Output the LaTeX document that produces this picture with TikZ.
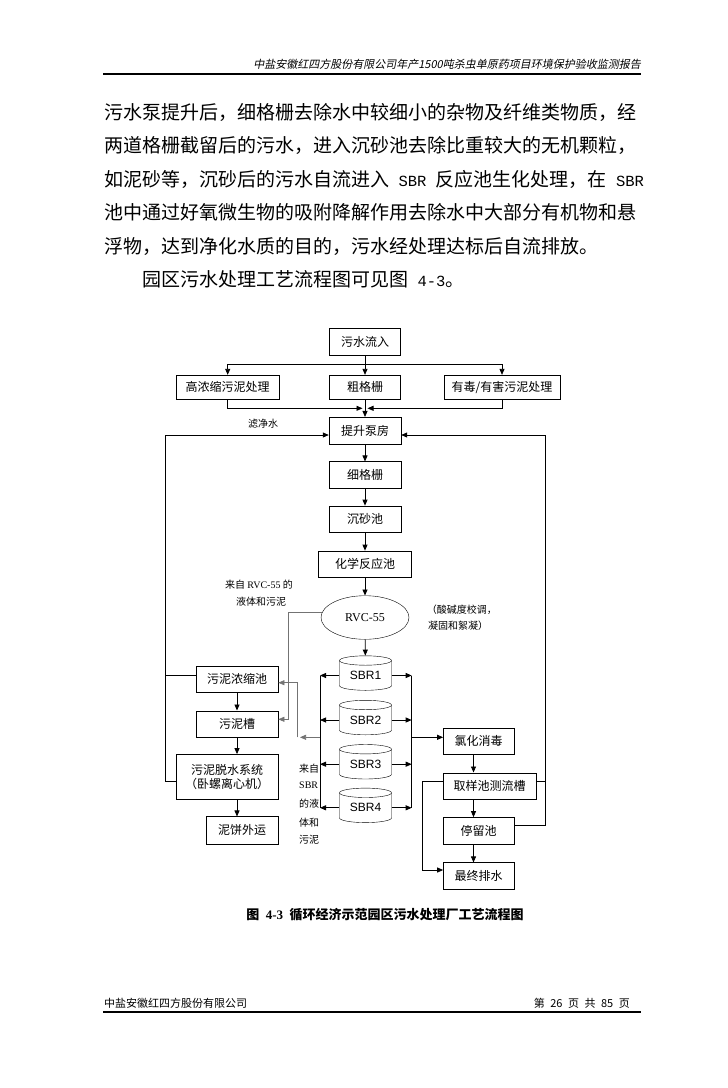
\documentclass[tikz,border=0pt]{standalone}
\usepackage{fontspec}
\setmainfont{Noto Sans CJK SC}
\newfontfamily\serifrm{Liberation Serif}
\newfontfamily\sansrm{Liberation Sans}
\newfontfamily\monorm{Liberation Mono}
\newfontfamily\slantcjk[FakeSlant=0.2]{Noto Sans CJK SC}
\usetikzlibrary{shapes.geometric,arrows.meta}

\newcommand{\boxtxt}{\fontsize{12}{14}\selectfont}
\newcommand{\smalltxt}{\fontsize{10}{12}\selectfont}
\newcommand{\paratxt}{\fontsize{19}{19}\selectfont}
\newcommand{\paramono}{\monorm\fontsize{15.5}{15.5}\selectfont}

\begin{document}
\begin{tikzpicture}[x=1pt,y=-1pt,
    arr/.style={-{Triangle[length=6pt,width=5pt]}},
    conn/.style={line width=0.8pt},
    faint/.style={line width=0.6pt,draw=black!55},
    note/.style={inner sep=0pt,anchor=west,font=\smalltxt},
    para/.style={inner sep=0pt,anchor=west,font=\paratxt}]

  \fill[white] (0,0) rectangle (728,1088);
  \useasboundingbox (0,0) rectangle (728,1088);

  % page header
  \node[inner sep=0pt,anchor=east,font=\slantcjk\fontsize{11}{11}\selectfont] (header) at (641,64)
    {中盐安徽红四方股份有限公司年产1500吨杀虫单原药项目环境保护验收监测报告};
  \draw[line width=2pt] (103,73.5) -- (641,73.5);

  % text above the chart
  \node[para] (p1) at (104,112) {污水泵提升后，细格栅去除水中较细小的杂物及纤维类物质，经};
  \node[para] (p2) at (104,145.5) {两道格栅截留后的污水，进入沉砂池去除比重较大的无机颗粒，};
  \node[para] (p3) at (104,179) {如泥砂等，沉砂后的污水自流进入{\paramono\ SBR }反应池生化处理，在{\paramono\ SBR}};
  \node[para] (p4) at (104,212.5) {池中通过好氧微生物的吸附降解作用去除水中大部分有机物和悬};
  \node[para] (p5) at (104,246) {浮物，达到净化水质的目的，污水经处理达标后自流排放。};
  \node[para] (p6) at (142,279.5) {园区污水处理工艺流程图可见图{\paramono\ 4-3}。};

  % boxes
  \begin{scope}[every node/.style={draw,rectangle,inner sep=0pt,font=\boxtxt}]
    \node[minimum width=71pt,minimum height=26.7pt] (inflow) at (365,341.7) {污水流入};
    \node[minimum width=103.3pt,minimum height=24.3pt] (hisludge) at (227.7,387.2) {高浓缩污泥处理};
    \node[minimum width=71pt,minimum height=24.3pt] (coarse) at (365,387.2) {粗格栅};
    \node[minimum width=116pt,minimum height=24.3pt] (toxic) at (502,387.2) {有毒/有害污泥处理};
    \node[minimum width=72pt,minimum height=26.7pt] (pump) at (365,430.5) {提升泵房};
    \node[minimum width=72pt,minimum height=26.7pt] (fine) at (365,475) {细格栅};
    \node[minimum width=72pt,minimum height=26.3pt] (grit) at (365,519) {沉砂池};
    \node[minimum width=93pt,minimum height=26.3pt] (chem) at (365,564) {化学反应池};
    \node[minimum width=82.3pt,minimum height=26.3pt] (thick) at (237,679.2) {污泥浓缩池};
    \node[minimum width=82.3pt,minimum height=26.6pt] (sludge) at (237,724) {污泥槽};
    \node[minimum width=102.6pt,minimum height=45pt,align=center] (dewater) at (227,776.8) {污泥脱水系统\\（卧螺离心机）};
    \node[minimum width=72pt,minimum height=27.3pt] (cake) at (242,830.3) {泥饼外运};
    \node[minimum width=70.7pt,minimum height=26pt] (chlor) at (478.7,741.3) {氯化消毒};
    \node[minimum width=92.4pt,minimum height=26.6pt] (sample) at (489.5,786) {取样池测流槽};
    \node[minimum width=70.7pt,minimum height=26.7pt] (hold) at (478.7,830.7) {停留池};
    \node[minimum width=70.7pt,minimum height=26.7pt] (final) at (478.7,876) {最终排水};
  \end{scope}

  \node[draw,ellipse,inner sep=0pt,minimum width=88pt,minimum height=43.6pt,
    font=\serifrm\fontsize{12}{12}\selectfont] (rvc) at (365,617.5) {RVC-55};

  \begin{scope}[every node/.style={draw,cylinder,shape border rotate=90,aspect=0.3,inner sep=0pt,
      minimum width=52pt,minimum height=34.5pt,font=\sansrm\fontsize{12}{12}\selectfont}]
    \node (sbr1) at (365.5,675.5) {SBR1};
    \node (sbr2) at (365.5,720) {SBR2};
    \node (sbr3) at (365.5,764.2) {SBR3};
    \node (sbr4) at (365.5,807.8) {SBR4};
  \end{scope}

  % notes
  \node[note] (filtnote) at (248,423.5) {滤净水};
  \node[note] (rvcnote1) at (225,585) {来自 {\serifrm RVC-55} 的};
  \node[note] (rvcnote2) at (236,601.7) {液体和污泥};
  \node[note] (phnote1) at (426.7,610) {（酸碱度校调，};
  \node[note] (phnote2) at (428,625.7) {凝固和絮凝）};
  \node[note] (sbrnote1) at (299,768.5) {来自};
  \node[note] (sbrnote2) at (299,785) {\serifrm SBR};
  \node[note] (sbrnote3) at (299,804) {的液};
  \node[note] (sbrnote4) at (299,822.5) {体和};
  \node[note] (sbrnote5) at (299,840) {污泥};

  % junction points
  \coordinate (split) at (365,364);
  \coordinate (splitL) at (227.7,364);
  \coordinate (splitR) at (502,364);
  \coordinate (mergeL) at (362.5,408.3);
  \coordinate (mergeR) at (367.5,408.3);
  \coordinate (backL) at (165,435);
  \coordinate (backLB) at (165,781.7);
  \coordinate (backR) at (545,435);
  \coordinate (backRB) at (545,825.7);
  \coordinate (sludgein) at (288.3,719.3);
  \coordinate (busL) at (320,737.3);
  \coordinate (bypassTip) at (300,737.3);
  \coordinate (bypass) at (297.3,737.3);
  \coordinate (bypassTop) at (297.3,682.7);
  \coordinate (busR) at (411.7,737.3);
  \coordinate (lcol) at (237,0);
  \coordinate (rcol) at (473.5,0);
  \coordinate (skip) at (422.7,781.7);
  \coordinate (skipB) at (422.7,870);

  % connectors
  \begin{scope}[every edge/.style={draw,conn,arr}]
    \path (splitL) edge (hisludge);
    \path (split) edge (coarse);
    \path (splitR) edge (toxic);
    \path (coarse) edge (pump);
    \path (pump) edge (fine);
    \path (fine) edge (grit);
    \path (grit) edge (chem);
    \path (chem) edge (rvc);
    \path (rvc) edge (sbr1);
    \path (thick) edge (sludge);
    \path (sludge.south) edge (sludge.south |- dewater.north);
    \path (dewater.south -| lcol) edge (cake.north -| lcol);
    \path (chlor.south -| rcol) edge (sample.north -| rcol);
    \path (sample.south -| rcol) edge (hold.north -| rcol);
    \path (hold.south -| rcol) edge (final.north -| rcol);
    \path (sbr1.west) edge (sbr1.west -| busL);
    \path (sbr2.west) edge (sbr2.west -| busL);
    \path (sbr3.west) edge (sbr3.west -| busL);
    \path (sbr4.west) edge (sbr4.west -| busL);
    \path (sbr1.east) edge (sbr1.east -| busR);
    \path (sbr2.east) edge (sbr2.east -| busR);
    \path (sbr3.east) edge (sbr3.east -| busR);
    \path (sbr4.east) edge (sbr4.east -| busR);
    \path (busR) edge (busR -| chlor.west);
  \end{scope}

  \draw[conn] (inflow) -- (split);
  \draw[conn] (splitL) -- (splitR);
  \draw[conn,arr] (hisludge) |- (mergeL);
  \draw[conn,arr] (toxic) |- (mergeR);
  \draw[conn,arr] (backLB -| dewater.west) -- (backLB) -- (backL) -- (backL -| pump.west);
  \draw[conn] (thick.west |- 0,675) -- (backL |- 0,675);
  \draw[conn,arr] (backRB -| hold.east) -- (backRB) -- (backR) -- (backR -| pump.east);
  \draw[conn] (sample.east |- 0,781) -- (backR |- 0,781);
  \draw[conn] (busL |- sbr1.west) -- (busL |- sbr4.west);
  \draw[conn] (busR |- sbr1.east) -- (busR |- sbr4.east);
  \draw[faint,arr] (rvc.173) -| (sludgein) -- (sludgein -| sludge.east);
  \draw[faint,arr] (busL) -- (bypassTip);
  \draw[faint,arr] (bypass) -- (bypassTop) -- (bypassTop -| thick.east);
  \draw[conn,arr] (skip -| sample.west) -- (skip) -- (skipB) -- (skipB -| final.west);

  % caption
  \node[inner sep=0pt,font=\bfseries\fontsize{13}{13}\selectfont] (caption) at (385,915)
    {图\enspace{\serifrm\bfseries 4-3}\enspace 循环经济示范园区污水处理厂工艺流程图};

  % page footer
  \node[inner sep=0pt,anchor=west,font=\fontsize{11}{11}\selectfont] (company) at (104,1003) {中盐安徽红四方股份有限公司};
  \node[inner sep=0pt,anchor=east,font=\fontsize{11}{11}\selectfont] (pageno) at (630,1003)
    {第\enspace 26\enspace 页\enspace 共\enspace 85\enspace 页};
  \draw[line width=2.5pt] (103,1012) -- (641,1012);
\end{tikzpicture}
\end{document}
